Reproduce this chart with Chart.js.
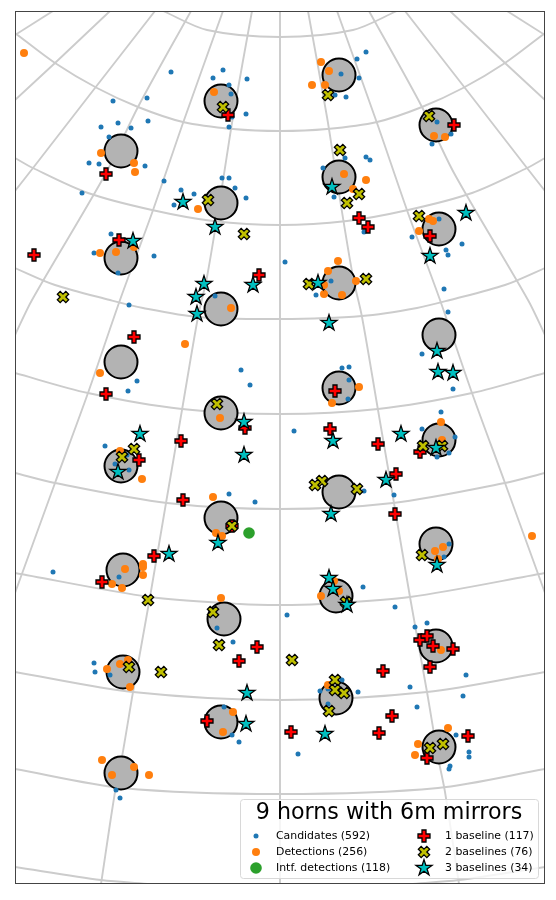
<!DOCTYPE html>
<html>
<head>
<meta charset="utf-8">
<title>9 horns with 6m mirrors</title>
<script src="https://cdn.jsdelivr.net/npm/chart.js@4/dist/chart.umd.js"></script>
<style>
  html, body { margin: 0; padding: 0; background: #fff; }
  canvas { display: block; }
</style>
</head>
<body>
<canvas id="chartHorns" width="556" height="900"></canvas>
<script>
const horns = [[221,101],[121,151],[221,203],[121,258],[221,309],[121,362],[221,413],[121,466],[221,518],[123,570],[224,619],[123,672],[221,722],[121,773],
  [339,75],[436,125],[339,177],[439,229],[339,283],[439,335],[339,388],[439,440],[339,492],[436,544],[336,596],[436,646],[336,698],[439,747]];

const candidates = [[171,72],[223,70],[213,78],[247,79],[229,85],[231,94],[246,114],[232,117],[229,127],[147,98],[113,101],[148,121],[118,123],[101,127],[131,128],[109,137],[89,163],[99,164],[145,166],[164,181],[82,193],[222,178],[229,178],[235,188],[246,198],[181,190],[194,194],[174,205],[111,234],[94,253],[154,256],[118,273],[215,296],
  [366,52],[357,59],[341,74],[359,78],[335,95],[346,97],[437,122],[451,134],[432,144],[345,158],[366,157],[370,160],[323,168],[334,197],[364,232],[439,219],[412,237],[462,244],[446,250],[448,255],[285,262],[444,289],[331,281],[316,295],
  [129,305],[137,381],[128,391],[241,370],[250,385],[105,446],[115,464],[129,470],[127,455],[229,494],[255,502],[53,572],[119,577],
  [448,312],[422,354],[453,389],[342,368],[349,367],[349,380],[348,399],[441,412],[422,429],[455,437],[449,453],[437,457],[294,431],[364,491],[394,495],[449,544],[444,557],[363,587],
  [217,628],[233,642],[94,663],[95,672],[110,675],[224,707],[232,735],[239,742],[116,790],[120,798],
  [287,615],[395,607],[415,627],[427,623],[466,675],[410,687],[463,696],[342,680],[320,691],[328,689],[358,692],[328,704],[417,707],[456,735],[469,752],[469,757],[450,766],[449,769],[298,754]];

const detections = [[24,53],[214,92],[101,153],[134,163],[135,172],[198,209],[116,252],[100,253],[134,247],
  [321,62],[329,71],[312,85],[325,85],[434,136],[445,137],[344,174],[366,180],[353,189],[429,219],[433,221],[419,231],[338,261],[328,271],[356,281],[324,294],[342,295],[324,285],
  [231,308],[185,344],[100,373],[220,418],[120,451],[142,479],[213,497],[216,533],[222,536],[143,564],[143,567],[125,569],[143,575],[112,584],[122,588],[221,598],
  [359,387],[332,403],[441,422],[442,440],[532,536],[443,547],[435,551],[438,559],[321,596],[339,591],[334,581],
  [128,660],[120,664],[107,669],[130,687],[233,712],[223,732],[102,760],[134,767],[112,775],[149,775],
  [441,650],[328,685],[448,728],[418,744],[415,755]];

const intfDetections = [[249,533]];

const baselines1 = [[228,115],[106,174],[119,240],[34,255],[259,275],[454,125],[359,218],[368,227],[430,236],
  [134,337],[106,394],[245,428],[181,441],[139,460],[183,500],[232,526],[154,556],[102,582],
  [335,391],[330,429],[378,444],[420,452],[396,474],[395,514],
  [257,647],[239,661],[207,721],[420,640],[427,636],[433,646],[453,649],[430,667],[383,671],[392,716],[291,732],[379,733],[468,736],[427,758]];

const baselines2 = [[223,107],[208,200],[244,234],[63,297],[328,95],[429,116],[340,150],[359,194],[347,203],[419,216],[366,279],[309,284],
  [217,404],[134,449],[122,457],[232,526],[148,600],[423,446],[442,446],[322,481],[315,485],[357,489],[422,555],[346,602],
  [213,612],[219,645],[129,667],[161,672],[292,660],[335,680],[335,690],[344,693],[329,711],[443,744],[430,748]];

const baselines3 = [[183,202],[215,227],[133,241],[204,284],[253,285],[196,297],[332,187],[466,213],[430,256],[318,283],
  [197,314],[140,434],[118,472],[244,422],[244,455],[218,543],[169,554],
  [329,323],[437,351],[438,372],[453,373],[333,441],[401,434],[436,448],[386,480],[331,514],[437,565],[329,578],[333,589],[347,605],
  [247,693],[246,724],[325,734]];

// grid, meridians then parallels
const meridians = [
  [[280,11],[280,884]],
  [[252,11],[233,117],[222,187],[207,277],[198,317],[182,410],[166,503],[150,597],[133,692],[122,757],[115,792],[101,884]],
  [[223,11],[183,123],[152,213],[120,300],[88,393],[55,483],[15,593]],
  [[191,11],[138,107],[106,173],[32,300],[15,335]],
  [[155,11],[95,88],[33,168],[15,191]],
  [[110,11],[55,63],[15,100]],
  [[53,11],[15,35]],
  [[308,11],[327,117],[338,187],[353,277],[362,317],[378,410],[394,503],[410,597],[427,692],[438,757],[445,792],[459,884]],
  [[337,11],[377,123],[408,213],[440,300],[472,393],[505,483],[545,593]],
  [[369,11],[422,107],[454,173],[528,300],[545,335]],
  [[405,11],[465,88],[527,168],[545,191]],
  [[450,11],[505,63],[545,100]],
  [[507,11],[545,35]]
];
const parallels = [
  [[163,11],[207,30],[280,37],[353,30],[397,11]],
  [[15,33],[55,63],[97,88],[138,107],[183,122],[233,129],[280,131],[327,129],[377,122],[422,107],[463,88],[505,63],[545,33]],
  [[15,158],[33,168],[88,193],[152,210],[213,221],[280,225],[347,221],[408,210],[472,193],[527,168],[545,158]],
  [[15,268],[55,285],[110,300],[143,308],[198,317],[280,319],[362,316],[417,308],[450,300],[505,285],[545,268]],
  [[15,373],[88,393],[182,409],[280,414],[378,409],[472,393],[545,373]],
  [[15,473],[55,483],[167,503],[280,509],[393,503],[505,483],[545,473]],
  [[15,573],[150,597],[240,604],[280,605],[320,604],[410,597],[545,573]],
  [[15,672],[133,692],[280,700],[427,692],[545,672]],
  [[15,769],[122,788],[280,794],[438,788],[545,769]],
  [[15,867],[101,880],[150,884]],
  [[410,884],[459,880],[545,867]]
];

const legendTitle = "9 horns with 6m mirrors";
const legendCol1 = ["Candidates (592)", "Detections (256)", "Intf. detections (118)"];
const legendCol2 = ["1 baseline (117)", "2 baselines (76)", "3 baselines (34)"];

function toPoints(list) {
  return list.map(p => ({x: p[0], y: p[1]}));
}

// filled matplotlib style markers, drawn once and used as pointStyle
function makeMarker(path, fill, size) {
  const c = document.createElement("canvas");
  c.width = size;
  c.height = size;
  const ctx = c.getContext("2d");
  ctx.translate(size / 2, size / 2);
  ctx.beginPath();
  path.forEach((p, i) => i ? ctx.lineTo(p[0], p[1]) : ctx.moveTo(p[0], p[1]));
  ctx.closePath();
  ctx.fillStyle = fill;
  ctx.fill();
  ctx.strokeStyle = "#000";
  ctx.lineWidth = 1.3;
  ctx.lineJoin = "miter";
  ctx.stroke();
  return c;
}

const a = 2, b = 6;
const plusPath = [[-a,-b],[a,-b],[a,-a],[b,-a],[b,a],[a,a],[a,b],[-a,b],[-a,a],[-b,a],[-b,-a],[-a,-a]];
const xPath = plusPath.map(p => [(p[0] - p[1]) * 0.7071, (p[0] + p[1]) * 0.7071]);
const starPath = [];
for (let i = 0; i < 10; i++) {
  const r = i % 2 ? 3.2 : 8.4;
  const t = -Math.PI / 2 + i * Math.PI / 5;
  starPath.push([r * Math.cos(t), r * Math.sin(t)]);
}
const plusMark = makeMarker(plusPath, "#ff0000", 20);
const xMark = makeMarker(xPath, "#bfbf00", 20);
const starMark = makeMarker(starPath, "#00bfbf", 22);

const gridSets = meridians.concat(parallels).map(line => ({
  data: toPoints(line),
  showLine: true,
  borderColor: "#cccccc",
  borderWidth: 1.9,
  tension: 0.3,
  pointRadius: 0,
  order: 10
}));

const legendBox = {
  id: "legendBox",
  afterDatasetsDraw(chart) {
    const ctx = chart.ctx;
    ctx.save();
    ctx.beginPath();
    ctx.roundRect(240.5, 799.5, 298, 79, 3);
    ctx.fillStyle = "rgba(255,255,255,0.8)";
    ctx.fill();
    ctx.strokeStyle = "#d8d8d8";
    ctx.lineWidth = 1;
    ctx.stroke();

    ctx.fillStyle = "#000";
    ctx.textBaseline = "middle";
    ctx.font = "22.2px 'DejaVu Sans'";
    ctx.textAlign = "center";
    ctx.fillText(legendTitle, 389, 813);

    ctx.font = "10.9px 'DejaVu Sans'";
    ctx.textAlign = "left";
    const rows = [836, 852, 868];
    rows.forEach((y, i) => {
      ctx.fillText(legendCol1[i], 276, y);
      ctx.fillText(legendCol2[i], 445, y);
    });

    const dots = [["#1f77b4", 2.5], ["#ff7f0e", 4], ["#2ca02c", 5.8]];
    dots.forEach((d, i) => {
      ctx.beginPath();
      ctx.arc(256, rows[i], d[1], 0, 2 * Math.PI);
      ctx.fillStyle = d[0];
      ctx.fill();
    });
    [plusMark, xMark, starMark].forEach((m, i) => {
      ctx.drawImage(m, 424 - m.width / 2, rows[i] - m.height / 2);
    });

    // axes frame
    const area = chart.chartArea;
    ctx.strokeStyle = "#444";
    ctx.lineWidth = 1;
    ctx.strokeRect(area.left, area.top, area.right - area.left, area.bottom - area.top);
    ctx.restore();
  }
};

const chartHorns = new Chart("chartHorns", {
  type: "scatter",
  data: {
    datasets: [{
      label: "Horns",
      data: toPoints(horns),
      pointRadius: 16.5,
      pointBackgroundColor: "#b3b3b3",
      pointBorderColor: "#000",
      pointBorderWidth: 2,
      order: 7
    }, {
      label: "Candidates",
      data: toPoints(candidates),
      pointRadius: 2.5,
      pointBackgroundColor: "#1f77b4",
      pointBorderWidth: 0,
      order: 6
    }, {
      label: "Detections",
      data: toPoints(detections),
      pointRadius: 4,
      pointBackgroundColor: "#ff7f0e",
      pointBorderWidth: 0,
      order: 5
    }, {
      label: "Intf. detections",
      data: toPoints(intfDetections),
      pointRadius: 5.8,
      pointBackgroundColor: "#2ca02c",
      pointBorderWidth: 0,
      order: 4
    }, {
      label: "1 baseline",
      data: toPoints(baselines1),
      pointStyle: plusMark,
      pointRadius: 7,
      order: 3
    }, {
      label: "2 baselines",
      data: toPoints(baselines2),
      pointStyle: xMark,
      pointRadius: 7,
      order: 2
    }, {
      label: "3 baselines",
      data: toPoints(baselines3),
      pointStyle: starMark,
      pointRadius: 8,
      order: 1
    }].concat(gridSets)
  },
  options: {
    responsive: false,
    animation: false,
    layout: {autoPadding: false, padding: {left: 15.5, right: 11.5, top: 11.5, bottom: 16.5}},
    scales: {
      x: {type: "linear", display: false, min: 15.5, max: 544.5},
      y: {type: "linear", display: false, min: 11.5, max: 883.5, reverse: true}
    },
    plugins: {
      legend: {display: false},
      tooltip: {enabled: false}
    }
  },
  plugins: [legendBox]
});
</script>
</body>
</html>
